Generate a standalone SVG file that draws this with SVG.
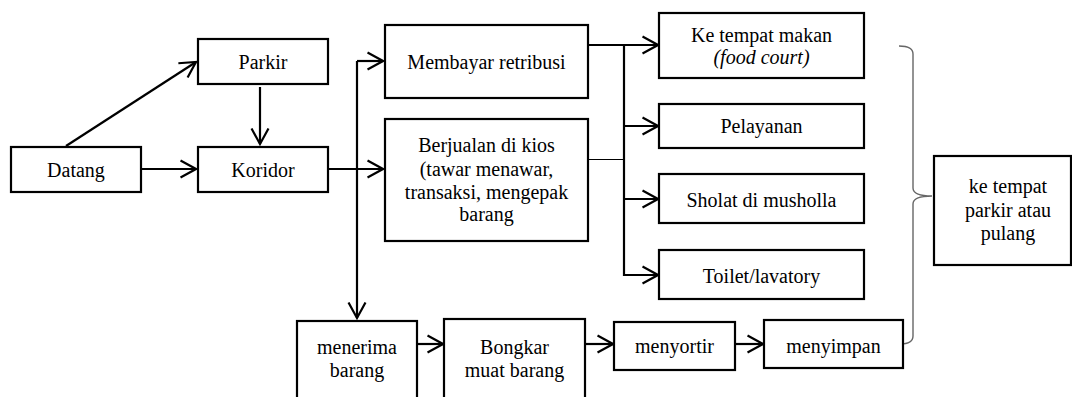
<svg xmlns="http://www.w3.org/2000/svg" width="1072" height="397" viewBox="0 0 1072 397">
<style>
.box{fill:#fff;stroke:#000;stroke-width:2.2}
.t{font-family:'Liberation Serif','Times New Roman',serif;font-size:20px;fill:#000;text-anchor:middle}
.it{font-style:italic}
.ln{fill:none;stroke:#000;stroke-width:2.2}
.thin{fill:none;stroke:#000;stroke-width:1}
.brace{fill:none;stroke:#666;stroke-width:1.4}
</style>
<defs>
<marker id="ah" viewBox="0 0 18 20" refX="16.5" refY="10" markerWidth="18" markerHeight="20" orient="auto" markerUnits="userSpaceOnUse">
<path d="M1,1.5 L16.5,10 L1,18.5" fill="none" stroke="#000" stroke-width="2.2"/>
</marker>
</defs>
<rect width="1072" height="397" fill="#fff"/>
<g id="connectors">
<line class="ln" x1="66" y1="146" x2="196" y2="62" marker-end="url(#ah)"/>
<line class="ln" x1="260" y1="87" x2="260" y2="144" marker-end="url(#ah)"/>
<line class="ln" x1="141" y1="169" x2="196" y2="169" marker-end="url(#ah)"/>
<line class="ln" x1="328" y1="169" x2="383" y2="169" marker-end="url(#ah)"/>
<line class="ln" x1="357" y1="61" x2="357" y2="318" marker-end="url(#ah)"/>
<line class="ln" x1="357" y1="61" x2="383" y2="61" marker-end="url(#ah)"/>
<line class="ln" x1="588" y1="45" x2="658" y2="45" marker-end="url(#ah)"/>
<line class="thin" x1="588" y1="159.5" x2="624" y2="159.5"/>
<line class="ln" x1="624" y1="45" x2="624" y2="276"/>
<line class="ln" x1="624" y1="126" x2="658" y2="126" marker-end="url(#ah)"/>
<line class="ln" x1="624" y1="199" x2="658" y2="199" marker-end="url(#ah)"/>
<line class="ln" x1="624" y1="275" x2="658" y2="275" marker-end="url(#ah)"/>
<line class="ln" x1="417" y1="344" x2="443" y2="344" marker-end="url(#ah)"/>
<line class="ln" x1="585" y1="344" x2="613" y2="344" marker-end="url(#ah)"/>
<line class="ln" x1="735" y1="344" x2="763" y2="344" marker-end="url(#ah)"/>
<path class="brace" d="M899,46 Q913,46 913,54 L913,188 Q913,196 932,196 Q913,196 913,204 L913,336 Q913,344 900,344"/>
</g>
<g id="parkir"><rect class="box" x="198" y="39" width="130" height="45"/><text class="t" x="263" y="69">Parkir</text></g>
<g id="datang"><rect class="box" x="11" y="147" width="130" height="45"/><text class="t" x="76" y="177">Datang</text></g>
<g id="koridor"><rect class="box" x="198" y="147" width="130" height="45"/><text class="t" x="263" y="177">Koridor</text></g>
<g id="membayar"><rect class="box" x="385" y="25" width="203" height="73"/><text class="t" x="486.5" y="69">Membayar retribusi</text></g>
<g id="berjualan"><rect class="box" x="385" y="119" width="203" height="122"/>
<text class="t" x="486.5" y="152">Berjualan di kios</text>
<text class="t" x="486.5" y="176">(tawar menawar,</text>
<text class="t" x="486.5" y="199">transaksi, mengepak</text>
<text class="t" x="486.5" y="221">barang</text></g>
<g id="makan"><rect class="box" x="659" y="13" width="205" height="65"/>
<text class="t" x="761.5" y="42">Ke tempat makan</text>
<text class="t it" x="761.5" y="64">(food court)</text></g>
<g id="pelayanan"><rect class="box" x="659" y="104" width="205" height="44"/><text class="t" x="761.5" y="133">Pelayanan</text></g>
<g id="sholat"><rect class="box" x="659" y="174" width="205" height="49"/><text class="t" x="761.5" y="207">Sholat di musholla</text></g>
<g id="toilet"><rect class="box" x="659" y="250" width="205" height="49"/><text class="t" x="761.5" y="283">Toilet/lavatory</text></g>
<g id="pulang"><rect class="box" x="934" y="156" width="137" height="109"/>
<text class="t" x="1008" y="193">ke tempat</text>
<text class="t" x="1008" y="217">parkir atau</text>
<text class="t" x="1008" y="240">pulang</text></g>
<g id="menerima"><rect class="box" x="297" y="321" width="120" height="85"/>
<text class="t" x="357" y="354">menerima</text>
<text class="t" x="357" y="377">barang</text></g>
<g id="bongkar"><rect class="box" x="444" y="319" width="141" height="87"/>
<text class="t" x="514.5" y="354">Bongkar</text>
<text class="t" x="514.5" y="377">muat barang</text></g>
<g id="menyortir"><rect class="box" x="614" y="322" width="121" height="48"/><text class="t" x="674.5" y="353">menyortir</text></g>
<g id="menyimpan"><rect class="box" x="764" y="320" width="139" height="48"/><text class="t" x="833.5" y="353">menyimpan</text></g>
</svg>
